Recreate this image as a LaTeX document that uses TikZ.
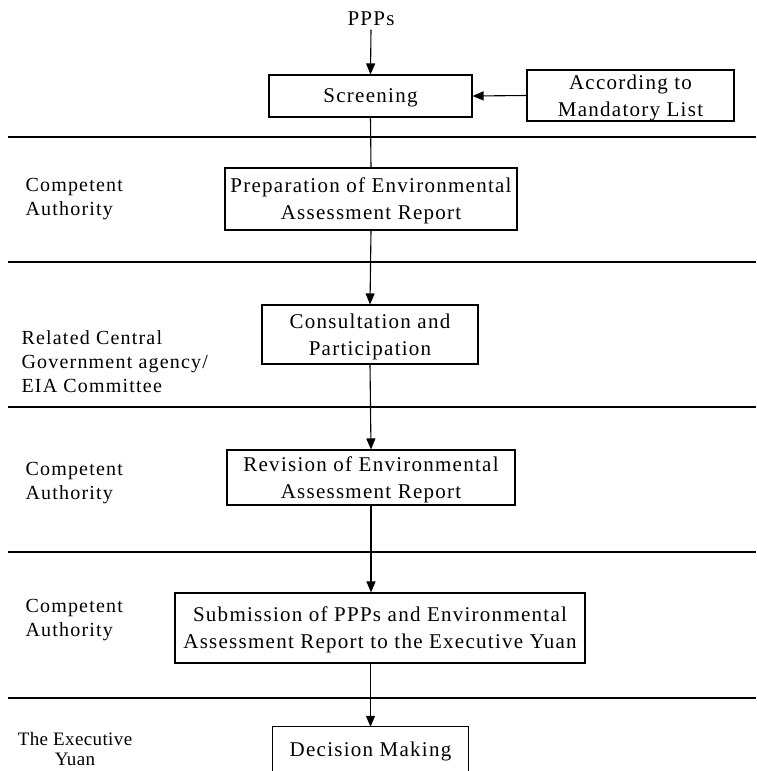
\documentclass[tikz,border=0pt]{standalone}
\usepackage{fontspec}
\setmainfont{Liberation Serif}[LetterSpace=6]
\usetikzlibrary{arrows.meta}
\begin{document}
\begin{tikzpicture}[x=1pt,y=-1pt,
  font=\fontsize{21}{27}\selectfont,
  box/.style={draw, line width=1.1pt, inner sep=0pt, align=center, text depth=0pt},
  lbl/.style={align=left, anchor=west, font=\fontsize{20}{24}\selectfont},
  arr/.style={-{Triangle[length=11pt,width=9pt]}, line width=1.1pt},
  sep/.style={line width=1.1pt}]
\useasboundingbox (0,0) rectangle (756,771);
\clip (0,0) rectangle (756,771);

\node (ppp) at (371,19) {PPPs};
\node[box, minimum width=203pt, minimum height=42pt] (scr) at (370.5,96) {Screening};
\node[box, minimum width=207pt, minimum height=51pt] (acc) at (630.5,95.5) {According to\\Mandatory List};
\node[box, minimum width=292pt, minimum height=62pt] (prep) at (371,199) {Preparation of Environmental\\Assessment Report};
\node[box, minimum width=216pt, minimum height=59pt] (cons) at (370,334.5) {Consultation and\\Participation};
\node[box, minimum width=288pt, minimum height=55pt] (rev) at (371,477.5) {Revision of Environmental\\Assessment Report};
\node[box, minimum width=410pt, minimum height=70pt] (sub) at (380,628) {Submission of PPPs and Environmental\\Assessment Report to the Executive Yuan};
\node[inner sep=0pt, minimum width=195pt, minimum height=44pt, text depth=0pt] (dec) at (370.5,749) {Decision Making};
\draw[line width=1.1pt] (dec.south west) -- (dec.north west) -- (dec.north east) -- (dec.south east);

% separators
\foreach \yy in {137,262,407,552,698} \draw[sep] (8,\yy) -- (756,\yy);

% connectors
\draw[arr] (ppp.south) -- (scr.north);
\draw[arr] (acc.west) -- (scr.east);
\draw[line width=1.1pt] (scr.south) -- (prep.north);
\draw[arr] (prep.south) -- (cons.north);
\draw[arr] (cons.south) -- (rev.north);
\draw[arr] (rev.south) -- (rev.south |- sub.north);
\draw[arr] (sub.south -| dec.north) -- (dec.north);

% lane labels
\node[lbl] (l1) at (22,199) {Competent\\Authority};
\node[lbl] (l2) at (18,362) {Related Central\\Government agency/\\EIA Committee};
\node[lbl] (l3) at (22,483) {Competent\\Authority};
\node[lbl] (l4) at (22,620) {Competent\\Authority};
\node[align=center, font=\fontsize{19}{20}\selectfont\addfontfeature{LetterSpace=2}, text depth=0pt] (l5) at (75,749) {The Executive\\Yuan};
\end{tikzpicture}
\end{document}
